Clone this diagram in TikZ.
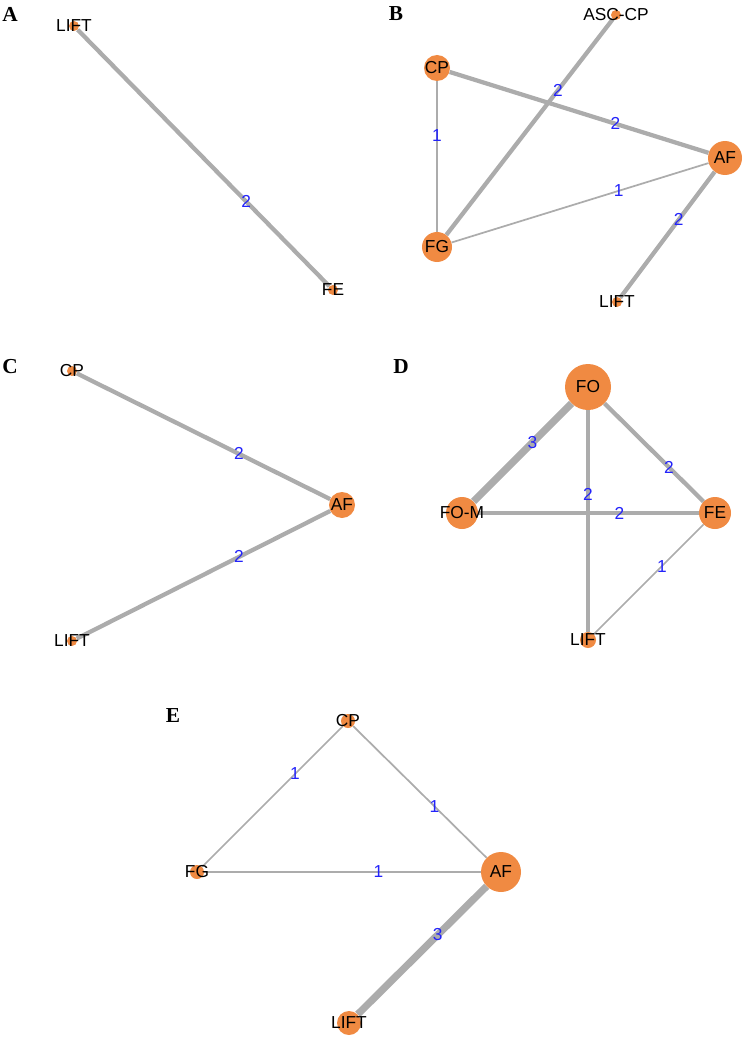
\documentclass[tikz,border=0pt]{standalone}
\usepackage{fontspec}
\setmainfont{Liberation Serif}
\setsansfont{Liberation Sans}
\usetikzlibrary{backgrounds}
\definecolor{nodeor}{RGB}{240,138,66}
\definecolor{edgegr}{RGB}{172,172,172}
\definecolor{numblue}{RGB}{35,35,250}
\tikzset{
  vtx/.style={circle, fill=nodeor, inner sep=0pt, minimum size={#1*1.5pt}},
  vtxtxt/.style={font=\sffamily\fontsize{13}{13}\selectfont, text=black, inner sep=0pt},
  edgeone/.style={draw=edgegr, line width=1.3pt},
  edgetwo/.style={draw=edgegr, line width=3.2pt},
  edgethree/.style={draw=edgegr, line width=5.4pt},
  num/.style={font=\sffamily\fontsize{13}{13}\selectfont, text=numblue, inner sep=0pt},
  panel/.style={font=\bfseries\fontsize{16}{16}\selectfont, inner sep=0pt}
}

\begin{document}
\begin{tikzpicture}[x=0.75pt, y=-0.75pt]
  \useasboundingbox (0,0) rectangle (747,1038);

  % panel A
  \node[panel] (labA) at (10,14) {A};
  \node[vtx=5, label={[vtxtxt]center:LIFT}] (aLift) at (74,26) {};
  \node[vtx=5, label={[vtxtxt]center:FE}] (aFe) at (333,290) {};
  \begin{scope}[on background layer]
    \draw[edgetwo] (aLift) -- node[num, pos=0.67]{2} (aFe);
  \end{scope}

  % panel B
  \node[panel] (labB) at (396,14) {B};
  \node[vtx=5, label={[vtxtxt]center:ASC-CP}] (bAsc) at (616,15) {};
  \node[vtx=13, label={[vtxtxt]center:CP}] (bCp) at (437,68) {};
  \node[vtx=17, label={[vtxtxt]center:AF}] (bAf) at (725,158) {};
  \node[vtx=15, label={[vtxtxt]center:FG}] (bFg) at (437,247) {};
  \node[vtx=5, label={[vtxtxt]center:LIFT}] (bLift) at (617,302) {};
  \begin{scope}[on background layer]
    \draw[edgeone] (bCp) -- node[num, pos=0.36]{1} (bFg);
    \draw[edgeone] (bFg) -- node[num, pos=0.65]{1} (bAf);
    \draw[edgetwo] (bCp) -- node[num, pos=0.64]{2} (bAf);
    \draw[edgetwo] (bFg) -- node[num, pos=0.67]{2} (bAsc);
    \draw[edgetwo] (bAf) -- node[num, pos=0.38]{2} (bLift);
  \end{scope}

  % panel C
  \node[panel] (labC) at (10,367) {C};
  \node[vtx=5, label={[vtxtxt]center:CP}] (cCp) at (72,371) {};
  \node[vtx=13, label={[vtxtxt]center:AF}] (cAf) at (342,505) {};
  \node[vtx=5, label={[vtxtxt]center:LIFT}] (cLift) at (72,641) {};
  \begin{scope}[on background layer]
    \draw[edgetwo] (cCp) -- node[num, pos=0.64]{2} (cAf);
    \draw[edgetwo] (cLift) -- node[num, pos=0.64]{2} (cAf);
  \end{scope}

  % panel D
  \node[panel] (labD) at (401,367) {D};
  \node[vtx=23, label={[vtxtxt]center:FO}] (dFo) at (588,387) {};
  \node[vtx=16, label={[vtxtxt]center:FO-M}] (dFom) at (462,513) {};
  \node[vtx=16, label={[vtxtxt]center:FE}] (dFe) at (715,513) {};
  \node[vtx=8, label={[vtxtxt]center:LIFT}] (dLift) at (588,640) {};
  \begin{scope}[on background layer]
    \draw[edgeone] (dFe) -- node[num, pos=0.38]{1} (dLift);
    \draw[edgetwo] (dFom) -- node[num, pos=0.64]{2} (dFe);
    \draw[edgetwo] (dFo) -- node[num, pos=0.38]{2} (dLift);
    \draw[edgetwo] (dFo) -- node[num, pos=0.65]{2} (dFe);
    \draw[edgethree] (dFo) -- node[num, pos=0.40]{3} (dFom);
  \end{scope}

  % panel E
  \node[panel] (labE) at (173,716) {E};
  \node[vtx=7, label={[vtxtxt]center:CP}] (eCp) at (348,721) {};
  \node[vtx=7, label={[vtxtxt]center:FG}] (eFg) at (197,872) {};
  \node[vtx=20, label={[vtxtxt]center:AF}] (eAf) at (501,872) {};
  \node[vtx=12, label={[vtxtxt]center:LIFT}] (eLift) at (349,1023) {};
  \begin{scope}[on background layer]
    \draw[edgeone] (eFg) -- node[num, pos=0.66]{1} (eCp);
    \draw[edgeone] (eCp) -- node[num, pos=0.61]{1} (eAf);
    \draw[edgeone] (eFg) -- node[num, pos=0.63]{1} (eAf);
    \draw[edgethree] (eAf) -- node[num, pos=0.38]{3} (eLift);
  \end{scope}
\end{tikzpicture}
\end{document}
